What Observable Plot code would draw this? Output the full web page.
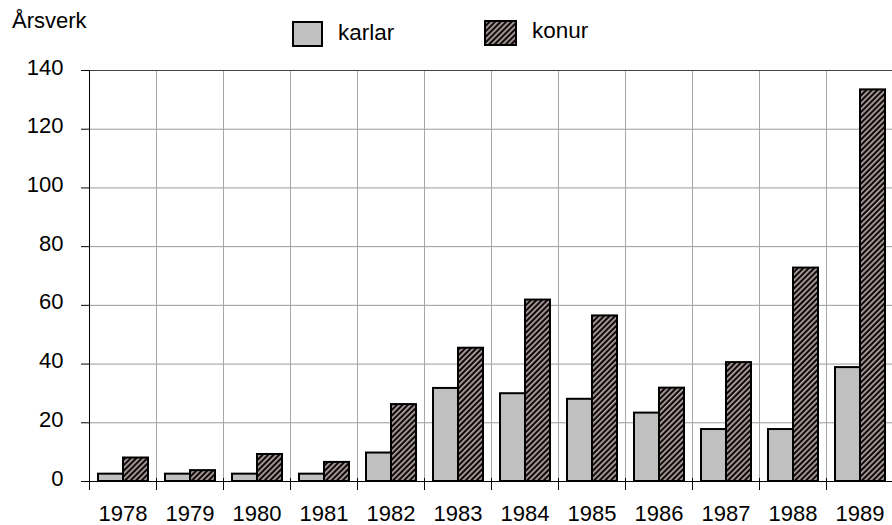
<!DOCTYPE html>
<html><head><meta charset="utf-8">
<script src="https://cdn.jsdelivr.net/npm/d3@7"></script>
<script src="https://cdn.jsdelivr.net/npm/@observablehq/plot@0.6"></script>
<style>
html,body{margin:0;padding:0;background:#fff;overflow:hidden;width:892px;height:525px}
svg{display:block}
#chart svg{overflow:visible;max-width:none !important}
</style></head><body>
<div id="head"></div>
<div id="chart"></div>
<script>
// ---- data ----
const years = ["1978","1979","1980","1981","1982","1983","1984","1985","1986","1987","1988","1989"];
const series = ["karlar", "konur"];
const karlar = [2.5, 2.5, 2.5, 2.5, 9.7, 31.7, 29.9, 28.0, 23.3, 17.7, 17.7, 38.8];
const konur  = [8.0, 3.7, 9.2, 6.5, 26.2, 45.4, 61.8, 56.4, 31.8, 40.5, 72.7, 133.4];
const yTicks = [0, 20, 40, 60, 80, 100, 120, 140];
const yTitle = "Årsverk";

const rows = years.flatMap((yr, i) => [
  {year: yr, sex: series[0], value: karlar[i]},
  {year: yr, sex: series[1], value: konur[i]}
]);

const font = "Arial, 'Liberation Sans', sans-serif";
const fills = ["#c0c0c0", "url(#hatch)"];

// ---- header (title + legend) ----
const head = d3.select("#head").append("svg")
  .attr("width", 892).attr("height", 56)
  .style("font-family", font);
const pat = head.append("defs").append("pattern")
  .attr("id", "hatch").attr("patternUnits", "userSpaceOnUse")
  .attr("width", 3.9).attr("height", 3.9)
  .attr("patternTransform", "rotate(45)");
pat.append("rect").attr("width", 3.9).attr("height", 3.9).attr("fill", "#150606");
pat.append("rect").attr("x", 0.2).attr("width", 1.3).attr("height", 3.9).attr("fill", "#dcdcdc");

head.append("text").attr("x", 12).attr("y", 28).attr("font-size", 22).text(yTitle);

const legendPos = [{bx: 293, by: 22, bw: 29, bh: 24, tx: 338, ty: 40},
                   {bx: 485, by: 21, bw: 31, bh: 24, tx: 532, ty: 38}];
series.forEach((s, i) => {
  const p = legendPos[i];
  head.append("rect").attr("x", p.bx).attr("y", p.by).attr("width", p.bw).attr("height", p.bh)
    .attr("fill", fills[i]).attr("stroke", "#000").attr("stroke-width", 2);
  head.append("text").attr("x", p.tx).attr("y", p.ty).attr("font-size", 22.5).text(s);
});

// ---- chart ----
const chart = Plot.plot({
  width: 897, height: 469,
  marginLeft: 84, marginRight: 0, marginTop: 14, marginBottom: 44,
  style: {fontFamily: font, fontSize: "22px", color: "#000", background: "#fff"},
  fx: {domain: years, padding: 0, label: null},
  x: {domain: series, paddingInner: 0, paddingOuter: 0.33, axis: null},
  y: {domain: [0, 140], ticks: yTicks, label: null},
  color: {domain: series, range: fills},
  marks: [
    Plot.gridY(yTicks, {stroke: "#999", strokeOpacity: 1}),
    Plot.frame({anchor: "left", stroke: "#a6a6a6"}),
    Plot.ruleY([140], {stroke: "#444"}),
    Plot.barY(rows, {fx: "year", x: "sex", y: "value", fill: "sex", stroke: "#000", strokeWidth: 2}),
    Plot.ruleY([0], {stroke: "#000", strokeWidth: 1.2}),
    Plot.frame({anchor: "left", stroke: "#000", insetTop: 408, insetBottom: -8}),
    Plot.frame({facet: "super", anchor: "left", stroke: "#000", insetBottom: -8}),
    Plot.axisY(yTicks, {tickSize: 8, tickFormat: () => ""}),
    Plot.axisY(yTicks, {tickSize: 0, tickPadding: 26, dy: -3}),
    Plot.axisFx({anchor: "bottom", tickSize: 0, tickPadding: 24, label: null})
  ]
});
document.getElementById("chart").appendChild(chart);
</script>
</body></html>
